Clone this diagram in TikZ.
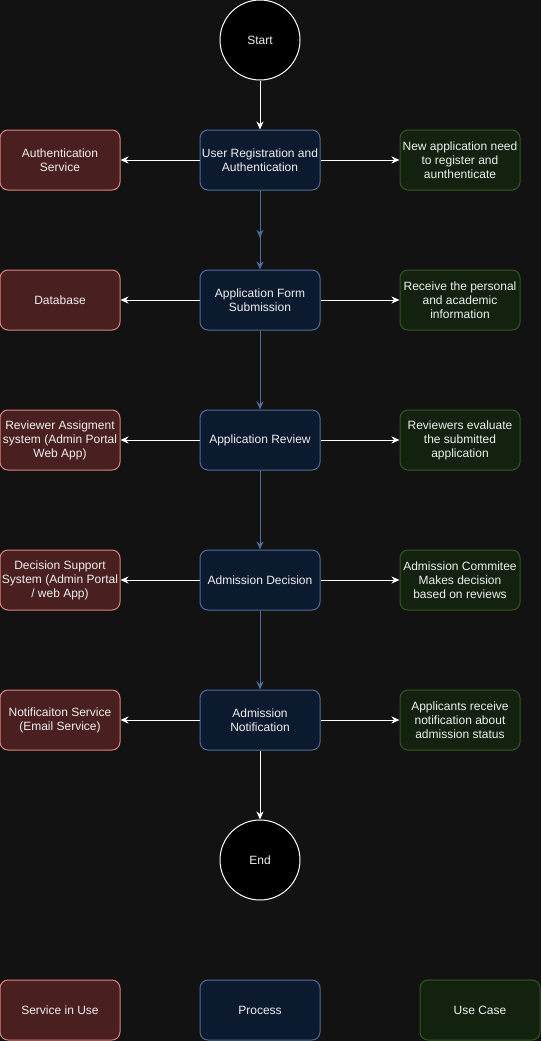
\documentclass[tikz,border=0pt]{standalone}
\usepackage{fontspec}
\setmainfont{Liberation Sans}
\usetikzlibrary{arrows.meta,decorations.markings}
\definecolor{bgdark}{HTML}{121212}
\definecolor{txt}{HTML}{F0F0F0}
\definecolor{svcfill}{HTML}{4A1F1F}
\definecolor{svcline}{HTML}{D9837D}
\definecolor{procfill}{HTML}{0B1A2E}
\definecolor{procline}{HTML}{4D6E9A}
\definecolor{usefill}{HTML}{12220E}
\definecolor{useline}{HTML}{30581F}
\tikzset{
  x=1pt, y=-1pt,
  box/.style={rounded corners=8pt, line width=1pt, minimum width=120pt, minimum height=60pt,
    inner sep=1pt, align=center, text=txt, font=\fontsize{12}{14}\selectfont},
  svc/.style={box, draw=svcline, fill=svcfill},
  proc/.style={box, draw=procline, fill=procfill},
  usec/.style={box, draw=useline, fill=usefill},
  term/.style={circle, draw=white, fill=black, line width=1pt, minimum size=80pt, inner sep=0pt,
    text=txt, font=\fontsize{12}{14}\selectfont},
  tip/.style={-{Stealth[length=8pt,width=7pt,inset=2.5pt]}},
  wflow/.style={tip, draw=white, line width=1pt},
  bflow/.style={tip, draw=procline, line width=1pt},
}
\begin{document}
\begin{tikzpicture}
\fill[bgdark] (0,0) rectangle (541,1041);
\useasboundingbox (0,0) rectangle (541,1041);

% start and end terminals
\node[term] (start) at (260,40) {Start};
\node[term] (end) at (260,860) {End};

% process column
\node[proc] (p1) at (260,160) {User Registration and\\Authentication};
\node[proc] (p2) at (260,300) {Application Form\\Submission};
\node[proc] (p3) at (260,440) {Application Review};
\node[proc] (p4) at (260,580) {Admission Decision};
\node[proc] (p5) at (260,720) {Admission\\Notification};

% services used by each step
\node[svc] (s1) at (60,160) {Authentication\\Service};
\node[svc] (s2) at (60,300) {Database};
\node[svc] (s3) at (60,440) {Reviewer Assigment\\system (Admin Portal\\Web App)};
\node[svc] (s4) at (60,580) {Decision Support\\System (Admin Portal\\/ web App)};
\node[svc] (s5) at (60,720) {Notificaiton Service\\(Email Service)};

% use cases
\node[usec] (u1) at (460,160) {New application need\\to register and\\aunthenticate};
\node[usec] (u2) at (460,300) {Receive the personal\\and academic\\information};
\node[usec] (u3) at (460,440) {Reviewers evaluate\\the submitted\\application};
\node[usec] (u4) at (460,580) {Admission Commitee\\Makes decision\\based on reviews};
\node[usec] (u5) at (460,720) {Applicants receive\\notification about\\admission status};

% legend
\node[svc] (l1) at (60,1010) {Service in Use};
\node[proc] (l2) at (260,1010) {Process};
\node[usec] (l3) at (480,1010) {Use Case};

% main flow
\draw[wflow] (start) -- (p1);
\draw[bflow, postaction={decorate}, decoration={markings,
  mark=at position 0.6 with {\arrow[procline]{Stealth[length=8pt,width=7pt,inset=2.5pt]}}}] (p1) -- (p2);
\draw[bflow] (p2) -- (p3);
\draw[bflow] (p3) -- (p4);
\draw[bflow] (p4) -- (p5);
\draw[wflow] (p5) -- (end);

% side links
\foreach \i in {1,...,5} {
  \draw[wflow] (p\i) -- (s\i);
  \draw[wflow] (p\i) -- (u\i);
}
\end{tikzpicture}
\end{document}
